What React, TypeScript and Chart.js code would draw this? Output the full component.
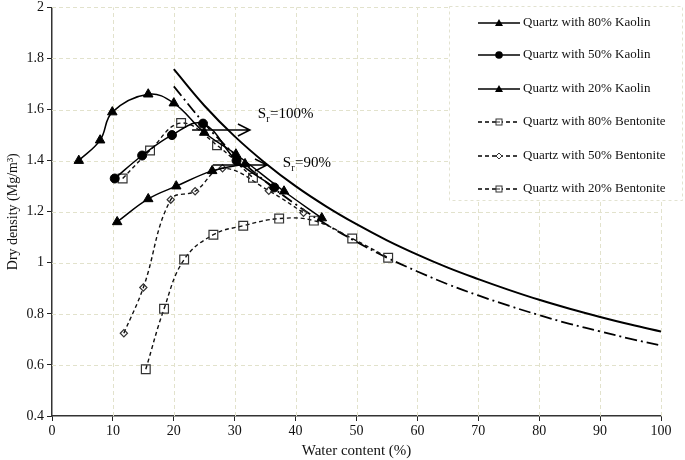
import React, { useEffect, useRef } from "react";
import { Chart, registerables } from "chart.js";

Chart.register(...registerables);

// Water content (%) and dry density (Mg/m3)
const k80W = [4.4, 7.9, 9.9, 15.8, 20.0, 25.0, 30.2, 38.1, 44.3];
const k80D = [1.40, 1.48, 1.59, 1.66, 1.625, 1.51, 1.425, 1.28, 1.175];

const k50W = [10.3, 14.8, 19.7, 24.8, 30.3, 36.5];
const k50D = [1.33, 1.42, 1.50, 1.545, 1.40, 1.295];

const k20W = [10.7, 15.8, 20.4, 26.3, 31.7];
const k20D = [1.16, 1.25, 1.30, 1.36, 1.387];

const b80W = [11.6, 16.1, 21.2, 27.1, 33.0];
const b80D = [1.33, 1.44, 1.547, 1.46, 1.333];

const b50W = [11.8, 15.0, 19.5, 23.5, 28.0, 35.6, 41.3];
const b50D = [0.724, 0.903, 1.247, 1.28, 1.37, 1.282, 1.196];

const b20W = [15.4, 18.4, 21.7, 26.5, 31.4, 37.3, 43.0, 49.3, 55.2];
const b20D = [0.583, 0.82, 1.013, 1.11, 1.145, 1.173, 1.165, 1.095, 1.02];

// Saturation lines
const satW = [20, 25, 30, 35, 40, 45, 50, 55, 60, 65, 70, 75, 80, 85, 90, 95, 100];
const sat100D = [1.758, 1.616, 1.495, 1.391, 1.300, 1.221, 1.151, 1.088, 1.032, 0.981, 0.936, 0.894, 0.855, 0.820, 0.788, 0.758, 0.731];
const sat90D = [1.691, 1.546, 1.424, 1.319, 1.229, 1.151, 1.082, 1.020, 0.966, 0.916, 0.872, 0.832, 0.795, 0.761, 0.731, 0.702, 0.676];

// Annotation arrows: [startW, endW, density]
const arrow100 = [23.0, 32.5, 1.52];
const arrow90 = [26.4, 35.3, 1.383];
// Label anchors [w, density]
const label100 = [33.8, 1.582];
const label90 = [37.9, 1.391];

const legendLabels = [
  "Quartz with 80% Kaolin",
  "Quartz with 50% Kaolin",
  "Quartz with 20% Kaolin",
  "Quartz with 80% Bentonite",
  "Quartz with 50% Bentonite",
  "Quartz with 20% Bentonite",
];

const xTicks = { min: 0, max: 100, step: 10 };
const yTicks = { min: 0.4, max: 2, step: 0.2 };

const FONT = "'Liberation Serif', 'DejaVu Serif', serif";

const pts = (w: number[], d: number[]) => w.map((x, i) => ({ x, y: d[i] }));

export default function App() {
  const ref = useRef<HTMLCanvasElement | null>(null);

  useEffect(() => {
    if (!ref.current) return;

    const kaolin = (label: string, data: any, style: string, r: number) => ({
      label,
      data,
      borderColor: "#000",
      backgroundColor: "#000",
      borderWidth: 1.5,
      pointStyle: style,
      pointRadius: r,
      pointBorderColor: "#000",
      pointBackgroundColor: "#000",
      pointBorderWidth: 1,
      tension: 0.4,
      showLine: true,
    });
    const bent = (label: string, data: any, style: string, r: number) => ({
      label,
      data,
      borderColor: "#111",
      backgroundColor: "rgba(255,255,255,0)",
      borderWidth: 1.4,
      borderDash: [4, 3],
      pointStyle: style,
      pointRadius: r,
      pointBorderColor: "#333",
      pointBackgroundColor: "rgba(255,255,255,0)",
      pointBorderWidth: 1.2,
      tension: 0.4,
      showLine: true,
    });

    const gridPlugin = {
      id: "dashGrid",
      beforeDatasetsDraw(chart: any) {
        const ctx = chart.ctx;
        const xs = chart.scales.x;
        const ys = chart.scales.y;
        const a = chart.chartArea;
        ctx.save();
        ctx.strokeStyle = "#e2e2cc";
        ctx.lineWidth = 1;
        ctx.setLineDash([4, 3]);
        for (let v = xTicks.min + xTicks.step; v <= xTicks.max + 1e-9; v += xTicks.step) {
          const x = Math.round(xs.getPixelForValue(v)) + 0.5;
          ctx.beginPath();
          ctx.moveTo(x, a.bottom);
          ctx.lineTo(x, a.top);
          ctx.stroke();
        }
        for (let k = 1; k <= Math.round((yTicks.max - yTicks.min) / yTicks.step); k++) {
          const v = yTicks.min + k * yTicks.step;
          const y = Math.round(ys.getPixelForValue(v)) + 0.5;
          ctx.beginPath();
          ctx.moveTo(a.left, y);
          ctx.lineTo(a.right, y);
          ctx.stroke();
        }
        ctx.restore();
      },
    };

    const extras = {
      id: "extras",
      afterDatasetsDraw(chart: any) {
        const ctx = chart.ctx;
        const xs = chart.scales.x;
        const ys = chart.scales.y;
        ctx.save();
        ctx.strokeStyle = "#000";
        ctx.fillStyle = "#000";
        ctx.lineWidth = 1.5;
        const arrow = (a: number[]) => {
          const x1 = xs.getPixelForValue(a[0]);
          const x2 = xs.getPixelForValue(a[1]);
          const y = ys.getPixelForValue(a[2]);
          ctx.beginPath();
          ctx.moveTo(x1, y);
          ctx.lineTo(x2, y);
          ctx.moveTo(x2 - 12, y - 6);
          ctx.lineTo(x2, y);
          ctx.lineTo(x2 - 12, y + 6);
          ctx.stroke();
        };
        arrow(arrow100);
        arrow(arrow90);
        const label = (pos: number[], rest: string) => {
          const x = xs.getPixelForValue(pos[0]);
          const y = ys.getPixelForValue(pos[1]);
          ctx.textBaseline = "middle";
          ctx.textAlign = "left";
          ctx.font = `15px ${FONT}`;
          ctx.fillText("S", x, y);
          const sw = ctx.measureText("S").width;
          ctx.font = `10px ${FONT}`;
          ctx.fillText("r", x + sw, y + 5);
          const rw = ctx.measureText("r").width;
          ctx.font = `15px ${FONT}`;
          ctx.fillText(rest, x + sw + rw + 0.5, y);
        };
        label(label100, "=100%");
        label(label90, "=90%");

        // legend box
        const bx = 449.5, by = 6.5, bw = 233, bh = 194;
        ctx.fillStyle = "#fff";
        ctx.fillRect(bx, by, bw, bh);
        ctx.strokeStyle = "#e2e2d0";
        ctx.lineWidth = 1;
        ctx.setLineDash([3, 3]);
        ctx.strokeRect(bx, by, bw, bh);
        ctx.setLineDash([]);
        const rows = [23, 55, 89, 122, 156, 189];
        chart.data.datasets.slice(0, 6).forEach((ds: any, i: number) => {
          const y = rows[i];
          ctx.save();
          ctx.strokeStyle = "#000";
          ctx.lineWidth = 1.5;
          if (i >= 3) ctx.setLineDash([4, 3]);
          ctx.beginPath();
          ctx.moveTo(478, y);
          ctx.lineTo(520, y);
          ctx.stroke();
          ctx.restore();
          // marker
          ctx.save();
          ctx.fillStyle = i < 3 ? "#000" : "#fff";
          ctx.strokeStyle = i < 3 ? "#000" : "#333";
          ctx.lineWidth = 1;
          const cx = 499;
          if (ds.pointStyle === "triangle") {
            ctx.beginPath();
            ctx.moveTo(cx, y - 4);
            ctx.lineTo(cx + 4, y + 3);
            ctx.lineTo(cx - 4, y + 3);
            ctx.closePath();
            ctx.fill();
          } else if (ds.pointStyle === "circle") {
            ctx.beginPath();
            ctx.arc(cx, y, 3.8, 0, Math.PI * 2);
            ctx.fill();
          } else if (ds.pointStyle === "rect") {
            ctx.fillRect(cx - 3, y - 3, 6, 6);
            ctx.strokeRect(cx - 3, y - 3, 6, 6);
            ctx.beginPath();
            ctx.moveTo(cx - 3, y);
            ctx.lineTo(cx + 1, y);
            ctx.stroke();
          } else {
            ctx.beginPath();
            ctx.moveTo(cx, y - 3);
            ctx.lineTo(cx + 3, y);
            ctx.lineTo(cx, y + 3);
            ctx.lineTo(cx - 3, y);
            ctx.closePath();
            ctx.fill();
            ctx.stroke();
          }
          ctx.restore();
          ctx.fillStyle = "#111";
          ctx.font = `13px ${FONT}`;
          ctx.textAlign = "left";
          ctx.textBaseline = "middle";
          ctx.fillText(legendLabels[i], 523, y);
        });
        ctx.restore();
      },
    };

    const chart = new Chart(ref.current, {
      type: "scatter",
      data: {
        datasets: [
          kaolin(legendLabels[0], pts(k80W, k80D), "triangle", 5.5),
          kaolin(legendLabels[1], pts(k50W, k50D), "circle", 4.5),
          kaolin(legendLabels[2], pts(k20W, k20D), "triangle", 5.5),
          bent(legendLabels[3], pts(b80W, b80D), "rect", 6.2),
          bent(legendLabels[4], pts(b50W, b50D), "rectRot", 3.6),
          bent(legendLabels[5], pts(b20W, b20D), "rect", 6.2),
          {
            label: "Sr=100%",
            data: pts(satW, sat100D),
            borderColor: "#000",
            borderWidth: 2,
            pointRadius: 0,
            tension: 0.4,
            showLine: true,
          },
          {
            label: "Sr=90%",
            data: pts(satW, sat90D),
            borderColor: "#000",
            borderWidth: 1.8,
            borderDash: [12, 4, 2, 4],
            pointRadius: 0,
            tension: 0.4,
            showLine: true,
          },
        ] as any,
      },
      plugins: [gridPlugin, extras],
      options: {
        responsive: false,
        animation: false,
        layout: { padding: { left: 0, right: 24, top: 6, bottom: 0 } },
        plugins: {
          legend: { display: false },
          tooltip: { enabled: false },
        },
        scales: {
          x: {
            type: "linear",
            min: xTicks.min,
            max: xTicks.max,
            afterFit: (s: any) => {
              s.height = 44;
            },
            ticks: {
              stepSize: xTicks.step,
              color: "#111",
              font: { family: FONT, size: 14 },
              padding: 2,
            },
            grid: {
              drawOnChartArea: false,
              tickColor: "#222",
              tickLength: 5,
            },
            border: { display: true, color: "#333", width: 1.5 },
            title: {
              display: true,
              text: "Water content (%)",
              color: "#111",
              font: { family: FONT, size: 15 },
              padding: { top: 0, bottom: 0 },
            },
          },
          y: {
            type: "linear",
            min: yTicks.min,
            max: yTicks.max,
            afterFit: (s: any) => {
              s.width = 52;
              s.paddingTop = 0;
              s.paddingBottom = 0;
            },
            ticks: {
              stepSize: yTicks.step,
              color: "#111",
              font: { family: FONT, size: 14 },
              padding: 3,
              callback: (v: any) => String(Number(Number(v).toFixed(1))),
            },
            grid: {
              drawOnChartArea: false,
              tickColor: "#222",
              tickLength: 5,
            },
            border: { display: true, color: "#333", width: 1.5 },
            title: {
              display: true,
              text: "Dry density (Mg/m³)",
              color: "#111",
              font: { family: FONT, size: 14 },
              padding: { top: 5, bottom: 0 },
            },
          },
        },
      } as any,
    });
    return () => chart.destroy();
  }, []);

  return (
    <div style={{ position: "fixed", left: 0, top: 0, width: 685, height: 460, background: "#fff" }}>
      <canvas ref={ref} width={685} height={460} />
    </div>
  );
}
